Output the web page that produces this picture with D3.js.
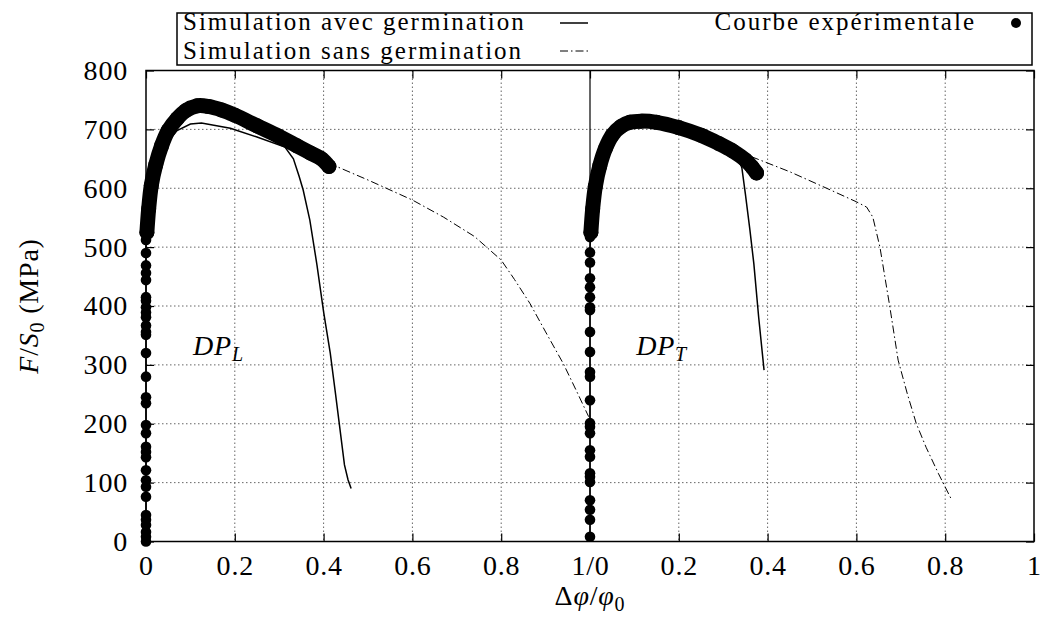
<!DOCTYPE html>
<html>
<head>
<meta charset="utf-8">
<script src="https://cdn.jsdelivr.net/npm/d3@7"></script>
<style>
  body { margin: 0; background: #fff; }
  text { font-family: "Liberation Serif", "DejaVu Serif", serif; fill: #000; letter-spacing: 0.8px; }
</style>
</head>
<body>
<div id="chart"></div>
<script>
// axes
const xTicks = [0, 0.2, 0.4, 0.6, 0.8, 1, 1.2, 1.4, 1.6, 1.8, 2];
const xTickLabels = ['0', '0.2', '0.4', '0.6', '0.8', '1/0', '0.2', '0.4', '0.6', '0.8', '1'];
const yTicks = [0, 100, 200, 300, 400, 500, 600, 700, 800];

// experimental: dots on the elastic (vertical) part, then the dense band
const expDotsL = [0, 8, 16, 28, 37, 45, 76, 93, 104, 121, 143, 152, 161, 184, 198, 235, 245, 280, 320, 351, 356, 367, 381, 389, 398, 409, 415, 444, 456, 469, 490, 512];
const expDotsT = [8, 37, 54, 70, 101, 110, 116, 144, 155, 184, 195, 201, 240, 280, 288, 322, 356, 393, 398, 415, 432, 447, 474, 491, 517];
const expBandL = [[0.002, 525], [0.006, 565], [0.012, 605], [0.022, 640], [0.035, 672], [0.05, 698], [0.07, 718], [0.09, 732], [0.115, 740], [0.14, 739], [0.17, 733], [0.2, 724], [0.25, 706], [0.3, 688], [0.34, 672], [0.37, 660], [0.395, 650], [0.412, 637]];
const expBandT = [[1.002, 525], [1.006, 565], [1.012, 603], [1.022, 638], [1.035, 668], [1.05, 690], [1.07, 705], [1.09, 712], [1.115, 714], [1.15, 712], [1.2, 703], [1.25, 690], [1.29, 676], [1.32, 664], [1.35, 648], [1.365, 636], [1.375, 626]];

// simulation avec germination (solid)
const avecL = [[0, 0], [0, 500], [0.004, 550], [0.012, 600], [0.025, 640], [0.045, 675], [0.07, 698], [0.1, 709], [0.125, 711], [0.19, 702], [0.25, 687], [0.313, 670], [0.332, 650], [0.345, 620], [0.354, 597], [0.369, 546], [0.385, 470], [0.4, 390], [0.415, 320], [0.427, 250], [0.437, 190], [0.447, 130], [0.455, 105], [0.462, 90]];
const avecT = [[1, 0], [1, 500], [1.004, 550], [1.012, 600], [1.025, 640], [1.04, 670], [1.052, 687], [1.075, 699], [1.1, 704], [1.13, 706], [1.2, 696], [1.26, 680], [1.3, 668], [1.335, 650], [1.342, 635], [1.35, 590], [1.36, 530], [1.369, 472], [1.38, 380], [1.392, 291]];

// simulation sans germination (dash-dot)
const sansL = [[0.38, 655], [0.42, 640], [0.5, 614], [0.6, 580], [0.67, 551], [0.74, 518], [0.8, 478], [0.83, 445], [0.865, 404], [0.9, 356], [0.94, 302], [0.97, 255], [0.997, 212]];
const sansT = [[1.33, 660], [1.342, 660], [1.45, 628], [1.533, 600], [1.6, 577], [1.623, 568], [1.637, 551], [1.653, 500], [1.675, 400], [1.694, 308], [1.715, 250], [1.735, 200], [1.757, 160], [1.785, 115], [1.815, 70]];

const W = 1042, H = 617;
const margin = { top: 70.5, right: 8, bottom: 75.5, left: 146 };
const width = W - margin.left - margin.right,
  height = H - margin.top - margin.bottom;
const fs = '28px', subFs = '20px', legendFs = '25px';

const x = d3.scaleLinear().domain([0, 2]).range([0, width]);
const y = d3.scaleLinear().domain([0, 800]).range([height, 0]);

const svg = d3.select('#chart').append('svg')
  .attr('width', W).attr('height', H);
const g = svg.append('g')
  .attr('transform', 'translate(' + margin.left + ',' + margin.top + ')');

// grid
g.append('g').selectAll('line')
  .data(xTicks.filter(d => d > 0 && d < 2 && d !== 1))
  .enter().append('line')
    .attr('x1', d => x(d)).attr('x2', d => x(d))
    .attr('y1', 0).attr('y2', height)
    .attr('stroke', '#666').attr('stroke-width', 1).attr('stroke-dasharray', '1.5,2.5');
g.append('g').selectAll('line')
  .data(yTicks.filter(d => d > 0 && d < 800))
  .enter().append('line')
    .attr('x1', 0).attr('x2', width)
    .attr('y1', d => y(d)).attr('y2', d => y(d))
    .attr('stroke', '#666').attr('stroke-width', 1).attr('stroke-dasharray', '1.5,2.5');

// separator between the two specimens
g.append('line')
  .attr('x1', x(1)).attr('x2', x(1)).attr('y1', y(0)).attr('y2', y(800))
  .attr('stroke', '#000').attr('stroke-width', 1.2);

// axes (ticks inward, mirrored)
const xAxis = d3.axisBottom(x).tickValues(xTicks).tickSizeInner(-8).tickSizeOuter(0)
  .tickFormat((d, i) => xTickLabels[i]).tickPadding(14);
g.append('g').attr('transform', 'translate(0,' + height + ')').call(xAxis);
g.append('g').call(d3.axisTop(x).tickValues(xTicks).tickSizeInner(-8).tickSizeOuter(0).tickFormat(''));
const yAxis = d3.axisLeft(y).tickValues(yTicks).tickSizeInner(-8).tickSizeOuter(0).tickPadding(18);
g.append('g').call(yAxis);
g.append('g').attr('transform', 'translate(' + width + ',0)')
  .call(d3.axisRight(y).tickValues(yTicks).tickSizeInner(-8).tickSizeOuter(0).tickFormat(''));
g.selectAll('.domain').remove();
g.selectAll('.tick line').attr('stroke', '#000').attr('stroke-width', 1.2);
g.selectAll('.tick text').style('font-size', fs).style('font-family', '"Liberation Serif", "DejaVu Serif", serif');

g.append('rect')
  .attr('width', width).attr('height', height)
  .attr('fill', 'none').attr('stroke', '#000').attr('stroke-width', 1.5);

const line = d3.line().x(d => x(d[0])).y(d => y(d[1]));
const smooth = d3.line().x(d => x(d[0])).y(d => y(d[1])).curve(d3.curveCatmullRom);

// simulations
[sansL, sansT].forEach(s => {
  g.append('path').datum(s).attr('d', line)
    .attr('fill', 'none').attr('stroke', '#000').attr('stroke-width', 1)
    .attr('stroke-dasharray', '8,3,1.5,3');
});
[avecL, avecT].forEach(s => {
  g.append('path').datum(s).attr('d', line)
    .attr('fill', 'none').attr('stroke', '#000').attr('stroke-width', 1.5);
});

// experimental band
[expBandL, expBandT].forEach(s => {
  g.append('path').datum(s).attr('d', smooth)
    .attr('fill', 'none').attr('stroke', '#000').attr('stroke-width', 15)
    .attr('stroke-linecap', 'round').attr('stroke-linejoin', 'round');
  g.append('g').selectAll('circle').data(s).enter().append('circle')
    .attr('cx', d => x(d[0])).attr('cy', d => y(d[1])).attr('r', 7.5);
});
g.append('g').selectAll('circle').data(expDotsL).enter().append('circle')
  .attr('cx', x(0)).attr('cy', d => y(d)).attr('r', 5.3);
g.append('g').selectAll('circle').data(expDotsT).enter().append('circle')
  .attr('cx', x(1)).attr('cy', d => y(d)).attr('r', 5.3);

// specimen labels
[['L', 0.106, 317], ['T', 1.104, 317]].forEach(([sub, lx, ly]) => {
  const t = g.append('text').attr('x', x(lx)).attr('y', y(ly))
    .style('font-size', fs).style('font-style', 'italic');
  t.append('tspan').text('DP');
  t.append('tspan').attr('dy', 6).style('font-size', subFs).text(sub);
});

// axis titles
const yt = svg.append('text')
  .attr('transform', 'translate(38,306) rotate(-90)')
  .attr('text-anchor', 'middle').style('font-size', fs);
yt.append('tspan').style('font-style', 'italic').text('F');
yt.append('tspan').text('/');
yt.append('tspan').style('font-style', 'italic').text('S');
yt.append('tspan').attr('dy', 6).style('font-size', subFs).text('0');
yt.append('tspan').attr('dy', -6).text(' (MPa)');

const xt = svg.append('text')
  .attr('x', margin.left + x(1)).attr('y', 605)
  .attr('text-anchor', 'middle').style('font-size', fs);
xt.append('tspan').text('Δ');
xt.append('tspan').style('font-style', 'italic').text('φ');
xt.append('tspan').text('/');
xt.append('tspan').style('font-style', 'italic').text('φ');
xt.append('tspan').attr('dy', 6).style('font-size', subFs).text('0');

// legend
const lg = svg.append('g');
lg.append('rect').attr('x', 177).attr('y', 13).attr('width', 855).attr('height', 52)
  .attr('fill', '#fff').attr('stroke', '#000').attr('stroke-width', 1.5);
lg.append('text').attr('x', 183).attr('y', 30).style('font-size', legendFs)
  .style('letter-spacing', '2px').text('Simulation avec germination');
lg.append('line').attr('x1', 560).attr('x2', 588).attr('y1', 23).attr('y2', 23)
  .attr('stroke', '#000').attr('stroke-width', 1.5);
lg.append('text').attr('x', 183).attr('y', 59).style('font-size', legendFs)
  .style('letter-spacing', '2px').text('Simulation sans germination');
lg.append('line').attr('x1', 560).attr('x2', 588).attr('y1', 51).attr('y2', 51)
  .attr('stroke', '#000').attr('stroke-width', 1).attr('stroke-dasharray', '8,3,1.5,3');
lg.append('text').attr('x', 976).attr('y', 30).attr('text-anchor', 'end')
  .style('font-size', legendFs).style('letter-spacing', '2px').text('Courbe expérimentale');
lg.append('circle').attr('cx', 1016).attr('cy', 23).attr('r', 5);
</script>
</body>
</html>
